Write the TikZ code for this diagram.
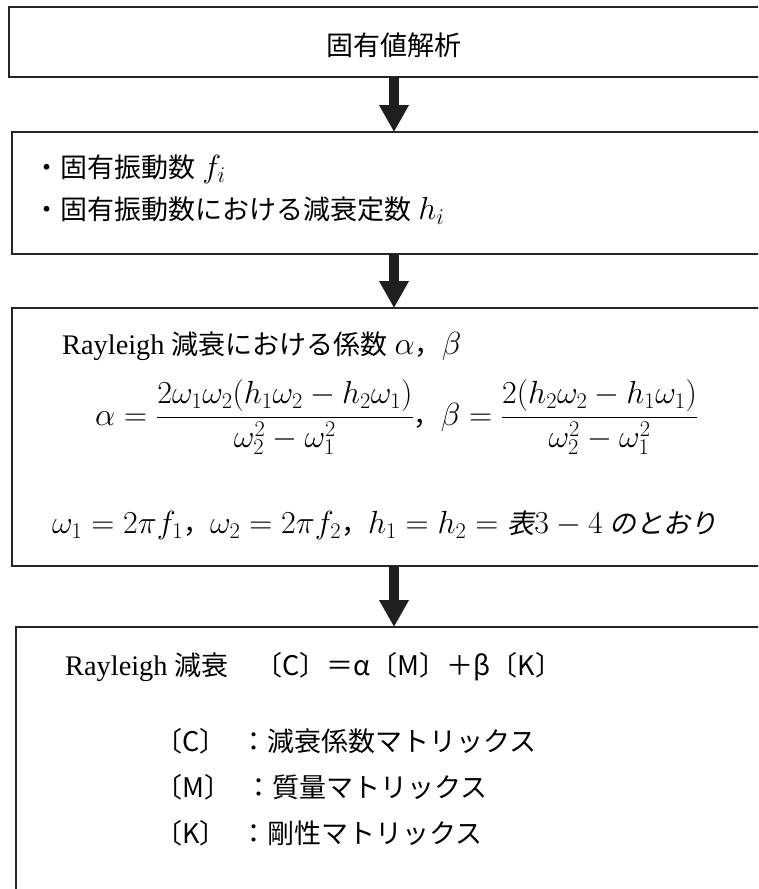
\RequirePackage{fix-cm}
\documentclass[tikz,border=0pt]{standalone}
\usepackage{amsmath}
\usepackage{fontspec}
\setmainfont{Liberation Serif}[Scale=1.05]
\newfontfamily\jp{Noto Sans CJK JP}
\newfontfamily\jpit[FakeSlant=0.2]{Noto Sans CJK JP}
\usetikzlibrary{arrows.meta,positioning}
% math is set a little larger than the text around it
\newcommand\mtx[1]{{\fontsize{32pt}{36pt}\selectfont$#1$}}

\begin{document}
\begin{tikzpicture}[x=1pt, y=-1pt,
    box/.style={draw=black!85, line width=1.4pt, rectangle, inner sep=0pt, outer sep=0pt},
    txt/.style={inner sep=0pt, anchor=west, font=\fontsize{27pt}{32pt}\selectfont},
    flow/.style={-{Triangle[width=28pt,length=27pt]}, line width=10pt, draw=black!88}]
  \useasboundingbox (0,0) rectangle (758,889);
  \clip (0,0) rectangle (758,889);
  % boxes, right side (and bottom of the last one) run off the page
  \node[box, minimum width=770pt, minimum height=70pt]  (eigen) at (394,42)  {};
  \node[box, minimum width=764pt, minimum height=122pt] (modes) at (394,193) {};
  \node[box, minimum width=764pt, minimum height=258pt] (coef)  at (394,437) {};
  \node[box, minimum width=756pt, minimum height=330pt] (rayl)  at (394,792) {};
  % flow arrows
  \draw[flow] (eigen) -- (modes);
  \draw[flow] (modes) -- (coef);
  \draw[flow] (coef) -- (rayl);
  % box 1
  \node[txt, anchor=center] (eigtxt) at (394,45) {\jp 固有値解析};
  % box 2
  \node[txt] (fitxt) at (33,169) {{\jp ・固有振動数} \mtx{f_i}};
  \node[txt] (hitxt) at (33,211) {{\jp ・固有振動数における減衰定数} \mtx{h_i}};
  % box 3
  \node[txt] (coeftxt) at (62,346) {Rayleigh {\jp 減衰における係数} \mtx{\alpha}{\jp ，}\mtx{\beta}};
  \node[txt] (fractxt) at (95,417)
    {\mtx{\displaystyle\alpha=\frac{2\omega_1\omega_2(h_1\omega_2-h_2\omega_1)}{\omega_2^2-\omega_1^2}}{\jp ，}\mtx{\displaystyle\beta=\frac{2(h_2\omega_2-h_1\omega_1)}{\omega_2^2-\omega_1^2}}};
  \node[txt] (omtxt) at (52,525)
    {\mtx{\omega_1=2\pi f_1}{\jp ，}\mtx{\omega_2=2\pi f_2}{\jp ，}\mtx{h_1=h_2={}}{\jpit 表}\mtx{3-4} {\jpit のとおり}};
  % box 4
  \node[txt] (rayltxt) at (65,667) {Rayleigh {\jp 減衰　〔C〕＝α〔M〕＋β〔K〕}};
  \foreach \y/\m/\lab in {741/C/減衰係数, 787/M/質量, 833/K/剛性}
    \node[txt] (mat\m) at (155,\y) {\jp 〔\m〕\hspace{14pt}：\lab マトリックス};
\end{tikzpicture}
\end{document}
